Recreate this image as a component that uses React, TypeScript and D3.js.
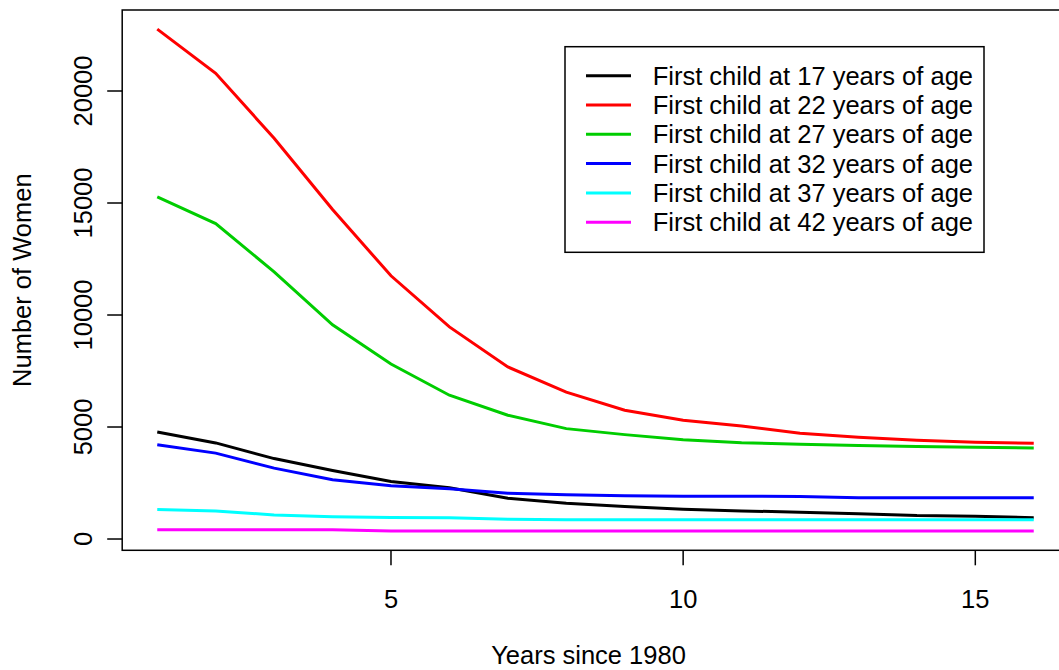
import React from 'react';
import * as d3 from 'd3';

const years = [1, 2, 3, 4, 5, 6, 7, 8, 9, 10, 11, 12, 13, 14, 15, 16];

const age17 = [4780, 4290, 3590, 3060, 2570, 2285, 1820, 1595, 1447, 1326, 1254, 1200, 1133, 1044, 1021, 954];
const age22 = [22760, 20790, 17890, 14710, 11750, 9470, 7680, 6555, 5750, 5300, 5050, 4720, 4540, 4410, 4315, 4270];
const age27 = [15270, 14080, 11930, 9560, 7810, 6420, 5525, 4928, 4660, 4435, 4300, 4225, 4180, 4135, 4100, 4060];
const age32 = [4211, 3835, 3163, 2643, 2380, 2240, 2043, 1971, 1926, 1909, 1909, 1900, 1840, 1840, 1840, 1840];
const age37 = [1313, 1254, 1075, 999, 955, 954, 878, 865, 865, 865, 865, 865, 865, 865, 865, 865];
const age42 = [417, 417, 417, 417, 360, 360, 360, 360, 360, 360, 360, 360, 360, 360, 360, 360];

const seriesNames = [
  'First child at 17 years of age',
  'First child at 22 years of age',
  'First child at 27 years of age',
  'First child at 32 years of age',
  'First child at 37 years of age',
  'First child at 42 years of age',
];
const seriesValues = [age17, age22, age27, age32, age37, age42];
const colors = ['#000000', '#ff0000', '#00cd00', '#0000ff', '#00ffff', '#ff00ff'];

const xTicks = [5, 10, 15];
const yTicks = [0, 5000, 10000, 15000, 20000];

const W = 1059;
const H = 670;
const font = '"Liberation Sans", Arial, Helvetica, sans-serif';

export default function App() {
  const x = d3.scaleLinear().domain([0.4, 16.6]).range([122.2, 1068.8]);
  const y = d3.scaleLinear().domain([-504, 23616]).range([550.3, 10]);

  const line = d3
    .line<number>()
    .x((_, i) => x(years[i]))
    .y((d) => y(d));

  const [x0, x1] = x.range();
  const [yb, yt] = y.range();

  const legend = { left: 565, top: 46.7, right: 984, bottom: 252.3, rowH: 29.3, firstRow: 75.7 };

  return (
    <svg
      width={W}
      height={H}
      style={{ position: 'absolute', left: 0, top: 0, background: '#fff' }}
      fontFamily={font}
      fontSize={25.5}
    >
      {seriesValues.map((vals, i) => (
        <path key={i} d={line(vals) || ''} fill="none" stroke={colors[i]} strokeWidth={3} />
      ))}

      <rect x={x0} y={yt} width={x1 - x0} height={yb - yt} fill="none" stroke="#000" strokeWidth={1.5} />

      {xTicks.map((t) => (
        <g key={t}>
          <line x1={x(t)} x2={x(t)} y1={yb} y2={yb + 15} stroke="#000" strokeWidth={1.5} />
          <text x={x(t)} y={608} textAnchor="middle">{t}</text>
        </g>
      ))}

      {yTicks.map((t) => (
        <g key={t}>
          <line x1={x0 - 15} x2={x0} y1={y(t)} y2={y(t)} stroke="#000" strokeWidth={1.5} />
          <text transform={`translate(92,${y(t)}) rotate(-90)`} textAnchor="middle">{t}</text>
        </g>
      ))}

      <text x={(x0 + x1) / 2 - 7} y={664} textAnchor="middle">Years since 1980</text>
      <text transform={`translate(31,${(yb + yt) / 2}) rotate(-90)`} textAnchor="middle">Number of Women</text>

      <rect
        x={legend.left}
        y={legend.top}
        width={legend.right - legend.left}
        height={legend.bottom - legend.top}
        fill="#fff"
        stroke="#000"
        strokeWidth={1.5}
      />
      {seriesNames.map((name, i) => {
        const cy = legend.firstRow + i * legend.rowH;
        return (
          <g key={name}>
            <line x1={586} x2={631} y1={cy} y2={cy} stroke={colors[i]} strokeWidth={3} />
            <text x={652.7} y={cy} dy="0.35em">{name}</text>
          </g>
        );
      })}
    </svg>
  );
}
